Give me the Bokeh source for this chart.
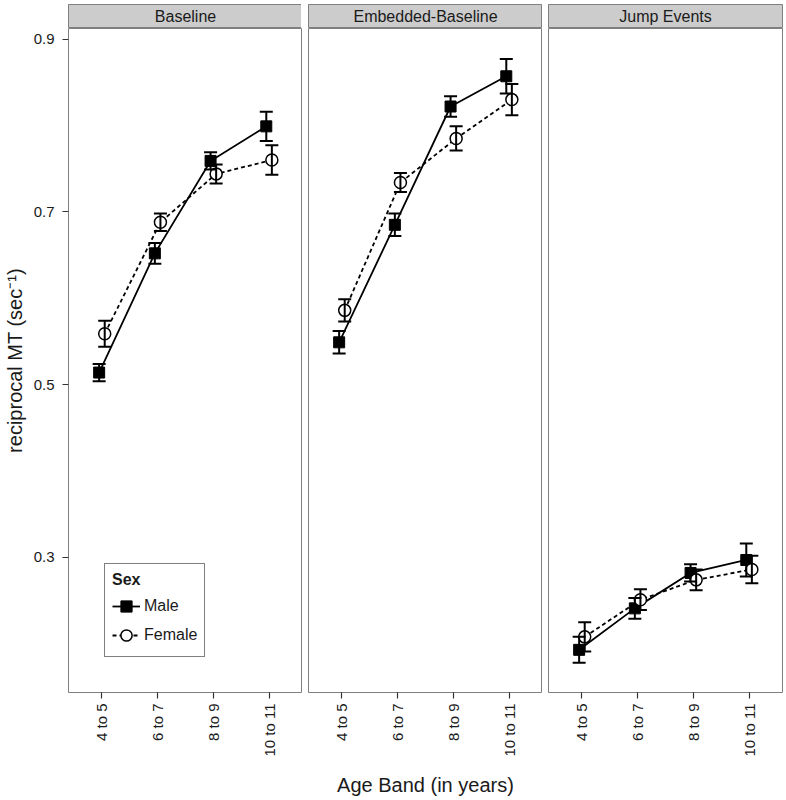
import math
from bokeh.plotting import figure
from bokeh.layouts import row, column
from bokeh.models import (ColumnDataSource, Range1d, FactorRange, FixedTicker,
                          Whisker, TeeHead, Legend, LegendItem)
from bokeh.transform import dodge
from bokeh.core.properties import value
from bokeh.embed import file_html
from bokeh.resources import INLINE

# ---------------- data ----------------
age_bands = ["4 to 5", "6 to 7", "8 to 9", "10 to 11"]
conditions = ["Baseline", "Embedded-Baseline", "Jump Events"]
sexes = ["Male", "Female"]

baseline_male = [0.514, 0.652, 0.759, 0.799]
baseline_male_se = [0.010, 0.012, 0.010, 0.017]
baseline_female = [0.559, 0.688, 0.744, 0.760]
baseline_female_se = [0.015, 0.010, 0.011, 0.017]

embedded_male = [0.549, 0.685, 0.822, 0.857]
embedded_male_se = [0.013, 0.013, 0.012, 0.020]
embedded_female = [0.586, 0.734, 0.785, 0.830]
embedded_female_se = [0.013, 0.011, 0.014, 0.018]

jump_male = [0.193, 0.241, 0.282, 0.297]
jump_male_se = [0.015, 0.012, 0.010, 0.019]
jump_female = [0.208, 0.251, 0.274, 0.286]
jump_female_se = [0.017, 0.012, 0.012, 0.016]

y_ticks = [0.3, 0.5, 0.7, 0.9]

means = {
    "Baseline": (baseline_male, baseline_female),
    "Embedded-Baseline": (embedded_male, embedded_female),
    "Jump Events": (jump_male, jump_female),
}
errors = {
    "Baseline": (baseline_male_se, baseline_female_se),
    "Embedded-Baseline": (embedded_male_se, embedded_female_se),
    "Jump Events": (jump_male_se, jump_female_se),
}

# ---------------- style ----------------
FONT = "Liberation Sans"
TXT = "#1A1A1A"
BORDER = "#7F7F7F"
FRAME_W = 234
FRAME_H = 664
DODGE = 0.05
LEFT = 67
GAP = 6
RIGHT = 5

y_range = Range1d(0.1436, 0.9123)


def make_source(m, se):
    return ColumnDataSource(dict(
        band=age_bands,
        y=m,
        lower=[a - b for a, b in zip(m, se)],
        upper=[a + b for a, b in zip(m, se)],
    ))


def make_strip(i, name):
    s = figure(frame_width=FRAME_W, frame_height=24,
               x_range=Range1d(0, 1), y_range=Range1d(0, 1),
               toolbar_location=None, output_backend="svg",
               x_axis_location=None, y_axis_location=None,
               min_border_left=LEFT if i == 0 else GAP,
               min_border_right=RIGHT if i == 2 else 0,
               min_border_top=4, min_border_bottom=0)
    s.grid.visible = False
    s.background_fill_color = "#CCCCCC"
    s.outline_line_color = BORDER
    s.outline_line_width = 1
    src = ColumnDataSource(dict(x=[0.5], y=[0.5], t=[name]))
    s.text(x="x", y="y", text="t", source=src, text_align="center",
           text_baseline="middle", text_font=value(FONT),
           text_font_size="16px", text_color=TXT)
    return s


def make_panel(i, name):
    first = i == 0
    p = figure(frame_width=FRAME_W, frame_height=FRAME_H,
               x_range=FactorRange(factors=age_bands, range_padding=0.05),
               y_range=y_range,
               toolbar_location=None, output_backend="svg",
               y_axis_location="left" if first else None,
               min_border_left=LEFT if first else GAP,
               min_border_right=RIGHT if i == 2 else 0,
               min_border_top=0, min_border_bottom=0)
    p.grid.visible = False
    p.outline_line_color = BORDER
    p.outline_line_width = 1

    # x axis
    xa = p.xaxis[0]
    xa.axis_line_color = None
    xa.major_tick_in = 0
    xa.major_tick_out = 6
    xa.major_tick_line_color = "#333333"
    xa.major_tick_line_width = 1.2
    xa.major_label_orientation = math.pi / 2
    xa.major_label_text_font = FONT
    xa.major_label_text_font_size = "15px"
    xa.major_label_text_color = TXT
    xa.major_label_standoff = 5
    if i == 1:
        xa.axis_label = "Age Band (in years)"
        xa.axis_label_text_font = FONT
        xa.axis_label_text_font_size = "20px"
        xa.axis_label_text_font_style = "normal"
        xa.axis_label_text_color = TXT
        xa.axis_label_standoff = 14

    if first:
        ya = p.yaxis[0]
        ya.ticker = FixedTicker(ticks=y_ticks)
        ya.axis_line_color = None
        ya.major_tick_in = 0
        ya.major_tick_out = 6
        ya.minor_tick_line_color = None
        ya.major_tick_line_color = "#333333"
        ya.major_tick_line_width = 1.2
        ya.major_label_text_font = FONT
        ya.major_label_text_font_size = "15px"
        ya.major_label_text_color = TXT
        ya.major_label_standoff = 8
        ya.axis_label = "reciprocal MT (sec\u207b\u00b9)"
        ya.axis_label_text_font = FONT
        ya.axis_label_text_font_size = "20px"
        ya.axis_label_text_font_style = "normal"
        ya.axis_label_text_color = TXT
        ya.axis_label_standoff = 5

    (m_male, m_female) = means[name]
    (se_male, se_female) = errors[name]
    src_m = make_source(m_male, se_male)
    src_f = make_source(m_female, se_female)

    xm = dodge("band", -DODGE, range=p.x_range)
    xf = dodge("band", DODGE, range=p.x_range)

    line_m = p.line(x=xm, y="y", source=src_m, line_color="black",
                    line_width=1.8)
    line_f = p.line(x=xf, y="y", source=src_f, line_color="black",
                    line_width=1.8, line_dash="4 3")

    for src, xx in ((src_m, xm), (src_f, xf)):
        w = Whisker(base=xx, lower="lower", upper="upper", source=src,
                    dimension="height", line_color="black", line_width=2,
                    upper_head=TeeHead(size=13, line_width=2,
                                       line_color="black"),
                    lower_head=TeeHead(size=13, line_width=2,
                                       line_color="black"),
                    level="glyph")
        p.add_layout(w)

    pts_m = p.scatter(x=xm, y="y", source=src_m, marker="square", size=11,
                      fill_color="black", line_color="black", line_width=1)
    pts_f = p.scatter(x=xf, y="y", source=src_f, marker="circle", size=12,
                      fill_color="white", line_color="black", line_width=1.5)

    if first:
        legend = Legend(
            items=[LegendItem(label=sexes[0], renderers=[line_m, pts_m]),
                   LegendItem(label=sexes[1], renderers=[line_f, pts_f])],
            title="Sex", location=(36, 35),
            title_text_font=FONT, title_text_font_size="16px",
            title_text_font_style="bold", title_text_color=TXT,
            label_text_font=FONT, label_text_font_size="16px",
            label_text_color=TXT,
            glyph_width=28, glyph_height=28, label_height=28,
            spacing=1, padding=7, margin=0, label_standoff=4,
            title_standoff=3,
            border_line_color="black", border_line_width=1.2,
            background_fill_color="white", background_fill_alpha=1)
        p.add_layout(legend)
    return p


cols = []
for i, name in enumerate(conditions):
    cols.append(column(make_strip(i, name), make_panel(i, name)))

layout = row(*cols)

open("out.html", "w").write(file_html(layout, INLINE))
